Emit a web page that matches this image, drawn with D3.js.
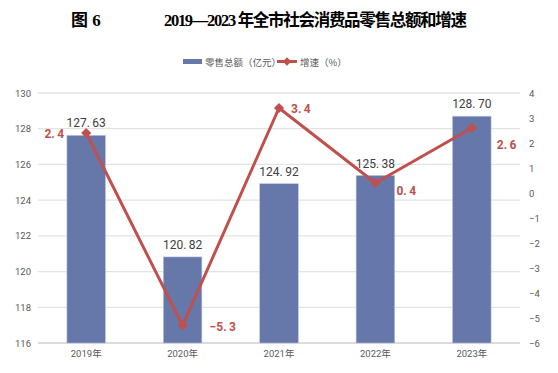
<!DOCTYPE html>
<html><head><meta charset="utf-8">
<script src="https://cdn.jsdelivr.net/npm/d3@7"></script>
<style>body{margin:0;background:#fff}svg{display:block}</style>
</head><body>
<svg id="c" width="558" height="373"></svg>
<script>
const categories = ["2019年","2020年","2021年","2022年","2023年"];
const retailTotal = [127.63, 120.82, 124.92, 125.38, 128.70];
const growthRate = [2.4, -5.3, 3.4, 0.4, 2.6];
const leftTicks = [116,118,120,122,124,126,128,130];
const rightTicks = [-6,-5,-4,-3,-2,-1,0,1,2,3,4];
const seriesNames = ["零售总额（亿元）","增速（%）"];

const svg = d3.select("#c");
const x = d3.scaleBand().domain(categories).range([38, 520]).paddingInner(0.6).paddingOuter(0.3);
const xc = d3.scalePoint().domain(categories).range([38,520]).padding(0.5);
const yL = d3.scaleLinear().domain([116,130]).range([343,93]);
const yR = d3.scaleLinear().domain([-6,4]).range([343,93]);
const barColor = "#6677a9", lineColor = "#c0504d", textGray = "#595959";
const fmt = s => s.replace(".", ".\u2009");

// title
svg.append("text").attr("x",71).attr("y",26).attr("font-family","'Liberation Serif','Noto Sans CJK SC',serif")
  .attr("font-weight","bold").attr("font-size",17).attr("fill","#000").text("图 6");
svg.append("text").attr("x",164).attr("y",26).attr("font-family","'Liberation Serif','Noto Sans CJK SC',serif")
  .attr("font-weight","bold").attr("font-size",16.5).attr("fill","#000").attr("textLength",303)
  .text("2019—2023 年全市社会消费品零售总额和增速");

// gridlines
svg.append("g").selectAll("line").data(leftTicks).join("line")
  .attr("x1",38).attr("x2",520).attr("y1",d=>yL(d)).attr("y2",d=>yL(d))
  .attr("stroke",d=>d===116?"#d0d0d0":"#e3e3e3").attr("stroke-width",1.3);

// left axis
const axL = d3.axisLeft(yL).tickValues(leftTicks).tickSize(0).tickPadding(7);
const gL = svg.append("g").attr("transform","translate(38,0)").call(axL);
gL.select(".domain").remove();
gL.selectAll("text").attr("font-family","Roboto,'Noto Sans',sans-serif").attr("font-size",9.5).attr("fill",textGray);

// right axis
const axR = d3.axisRight(yR).tickValues(rightTicks).tickSize(0).tickPadding(9).tickFormat(d=>d<0?"−"+Math.abs(d):d);
const gR = svg.append("g").attr("transform","translate(520,0)").call(axR);
gR.select(".domain").remove();
gR.selectAll("text").attr("font-family","Roboto,'Noto Sans',sans-serif").attr("font-size",9.5).attr("fill",textGray);

// x axis
const axB = d3.axisBottom(x).tickSize(0).tickPadding(7);
const gB = svg.append("g").attr("transform","translate(0,343)").call(axB);
gB.select(".domain").remove();
gB.selectAll("text").attr("font-family","Roboto,'Noto Sans CJK SC',sans-serif").attr("font-size",9.5).attr("fill",textGray);

// bars
svg.append("g").selectAll("rect").data(retailTotal).join("rect")
  .attr("x",(d,i)=>x(categories[i])).attr("width",x.bandwidth())
  .attr("y",d=>yL(d)).attr("height",d=>yL(116)-yL(d))
  .attr("fill",barColor).attr("stroke","#b9c3dd").attr("stroke-width",0.6);

// bar labels
svg.append("g").selectAll("text").data(retailTotal).join("text")
  .attr("x",(d,i)=>xc(categories[i])).attr("y",d=>yL(d)-8)
  .attr("text-anchor","middle").attr("font-family","Roboto,'Noto Sans',sans-serif").attr("font-size",12)
  .attr("fill","#404040").text(d=>fmt(d.toFixed(2)));

// line
const line = d3.line().x((d,i)=>xc(categories[i])).y(d=>yR(d));
svg.append("path").datum(growthRate).attr("d",line).attr("fill","none")
  .attr("stroke",lineColor).attr("stroke-width",3).attr("stroke-linejoin","round");
svg.append("g").selectAll("path").data(growthRate).join("path")
  .attr("transform",(d,i)=>`translate(${xc(categories[i])},${yR(d)}) rotate(45)`)
  .attr("d","M-3.6,-3.6H3.6V3.6H-3.6Z").attr("fill",lineColor);

// growth labels
const lblOff = [[-22,5,"end"],[27,5,"start"],[12,5,"start"],[21,12,"start"],[25,21,"start"]];
svg.append("g").selectAll("text").data(growthRate).join("text")
  .attr("x",(d,i)=>xc(categories[i])+lblOff[i][0]).attr("y",(d,i)=>yR(d)+lblOff[i][1])
  .attr("text-anchor",(d,i)=>lblOff[i][2])
  .attr("font-family","Roboto,'Noto Sans',sans-serif").attr("font-weight","bold").attr("font-size",12)
  .attr("fill",lineColor).text(d=>(d<0?"−":"")+fmt(Math.abs(d).toFixed(1)));

// legend
const lg = svg.append("g").attr("font-family","'Noto Sans CJK SC',sans-serif").attr("font-size",9.5).attr("fill",textGray);
lg.append("rect").attr("x",183).attr("y",59).attr("width",19).attr("height",5).attr("fill",barColor);
lg.append("text").attr("x",205).attr("y",65.5).text(seriesNames[0]);
lg.append("line").attr("x1",277).attr("x2",297).attr("y1",61.5).attr("y2",61.5).attr("stroke",lineColor).attr("stroke-width",3);
lg.append("path").attr("transform","translate(287,61.5) rotate(45)").attr("d","M-3,-3H3V3H-3Z").attr("fill",lineColor);
lg.append("text").attr("x",300).attr("y",65.5).text(seriesNames[1]);
</script>
</body></html>
